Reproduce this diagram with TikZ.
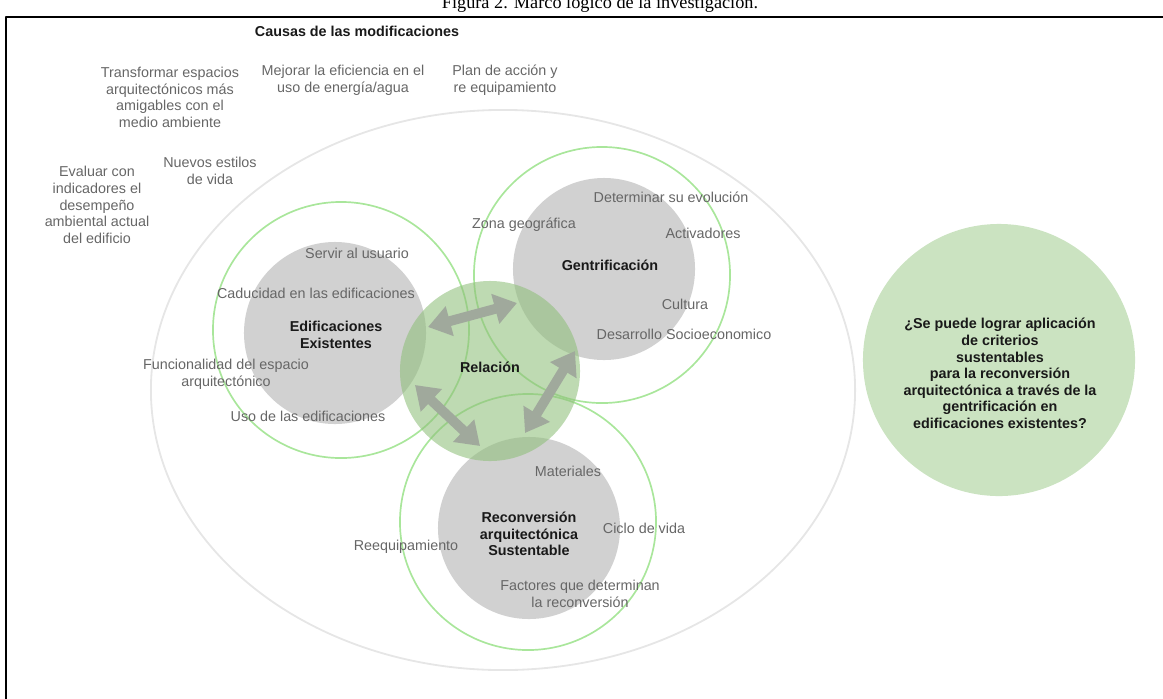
\documentclass[tikz,border=0pt]{standalone}
\usepackage{fontspec}
\setmainfont{Liberation Sans}
\newfontfamily\capfont{Liberation Serif}
\usepackage{tikz}
\usetikzlibrary{arrows.meta,shapes.geometric}
\definecolor{ringgreen}{HTML}{A9E69B}
\definecolor{bubgray}{HTML}{D1D1D1}
\definecolor{relgreen}{HTML}{8FBF7A}
\definecolor{askgreen}{HTML}{CBE3C1}
\definecolor{labgray}{HTML}{666666}
\definecolor{arrgray}{HTML}{A0A99C}
\definecolor{outergray}{HTML}{E6E6E6}
\tikzset{
  every picture/.style={line join=round, >=Stealth},
  lab/.style={text=labgray, font=\fontsize{10.2}{11.8}\selectfont, align=center, inner sep=0pt},
  ttl/.style={text=black!90, font=\fontsize{10.2}{11.8}\selectfont\bfseries, align=center, inner sep=0pt},
  bub/.style={circle, fill=bubgray, minimum size=4.55cm, inner sep=0pt},
  ring/.style={circle, draw=ringgreen, line width=1.2pt, minimum size=6.4cm, inner sep=0pt},
  link/.style={draw=arrgray, line width=7pt, {Triangle[width=21pt,length=16pt]}-{Triangle[width=21pt,length=16pt]}},
}

\begin{document}
\begin{tikzpicture}[x=0.025cm,y=-0.025cm]
\useasboundingbox (0,0) rectangle (1163,698);
\clip (0,0) rectangle (1163,698);
\node[font=\capfont\fontsize{13}{15}\selectfont, anchor=base] (cap) at (600,8) {Figura 2. Marco lógico de la investigación.};
\draw[line width=1.5pt] (1180,17) -- (6,17) -- (6,720);

\node[ellipse, draw=outergray, line width=1.3pt, minimum width=17.6cm, minimum height=14cm, inner sep=0pt] (causas) at (503,390) {};
\node[ring] (edifring) at (341,330) {};
\node[ring] (gentring) at (602,275) {};
\node[ring] (reconring) at (528,522) {};
\node[bub] (edif) at (335,333) {};
\node[bub] (gent) at (604,269) {};
\node[bub] (recon) at (529,528) {};
\node[circle, fill=relgreen, fill opacity=0.58, minimum size=4.5cm, inner sep=0pt] (rel) at (490,371) {};
\node[circle, fill=askgreen, minimum size=6.8cm, inner sep=0pt] (ask) at (999,360) {};

\coordinate (e1) at (428,327); \coordinate (g1) at (517,303);
\coordinate (e2) at (415,385); \coordinate (r2) at (480,446);
\coordinate (g3) at (575,351); \coordinate (r3) at (525,433);
\draw[link] (e1) -- (g1);
\draw[link] (e2) -- (r2);
\draw[link] (g3) -- (r3);

\node[ttl] (tcausas) at (357,31) {Causas de las modificaciones};
\node[lab] (trans) at (170,97.5) {Transformar espacios\\arquitectónicos más\\amigables con el\\medio ambiente};
\node[lab] (mejorar) at (343,80.5) {Mejorar la eficiencia en el\\uso de energía/agua};
\node[lab] (plan) at (505,80.5) {Plan de acción y\\re equipamiento};
\node[lab] (nuevos) at (210,171) {Nuevos estilos\\de vida};
\node[lab] (evaluar) at (97,205) {Evaluar con\\indicadores el\\desempeño\\ambiental actual\\del edificio};

\node[lab] (zona) at (524,225) {Zona geográfica};
\node[lab] (determ) at (671,197) {Determinar su evolución};
\node[lab] (activ) at (703,233) {Activadores};
\node[ttl] (tgent) at (610,265) {Gentrificación};
\node[lab] (cultura) at (685,304) {Cultura};
\node[lab] (desarr) at (684,334) {Desarrollo Socioeconomico};

\node[lab] (servir) at (357,253) {Servir al usuario};
\node[lab] (caduc) at (316,293) {Caducidad en las edificaciones};
\node[ttl] (tedif) at (336,335) {Edificaciones\\Existentes};
\node[lab] (funcion) at (226,374) {Funcionalidad del espacio\\arquitectónico};
\node[lab] (uso) at (308,416) {Uso de las edificaciones};

\node[ttl] (trel) at (490,367) {Relación};

\node[lab] (mater) at (568,471) {Materiales};
\node[ttl] (trecon) at (529,534) {Reconversión\\arquitectónica\\Sustentable};
\node[lab] (ciclo) at (644,528) {Ciclo de vida};
\node[lab] (reequip) at (406,547) {Reequipamiento};
\node[lab] (factores) at (580,594) {Factores que determinan\\la reconversión};

\node[ttl] (task) at (1000,373.5) {¿Se puede lograr aplicación\\de criterios\\sustentables\\para la reconversión\\arquitectónica a través de la\\gentrificación en\\edificaciones existentes?};
\end{tikzpicture}
\end{document}
